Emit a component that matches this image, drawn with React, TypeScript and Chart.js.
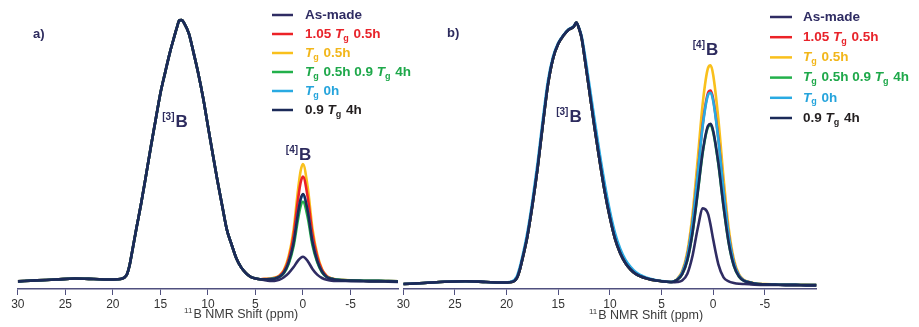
import React, { useEffect, useRef } from "react";
import { Chart, registerables } from "chart.js";
Chart.register(...registerables);

const FONT = "Arial, 'Liberation Sans', Helvetica, sans-serif";

// chemical shift grid (ppm), [3]B region and [4]B region
const ppmHigh = [30, 28, 26, 24, 22, 20.5, 19.5, 19, 18.75, 18.5, 18.25, 18, 17.5, 17, 16.5, 16, 15.5, 15, 14.5, 14, 13.5, 13.25, 13, 12.75, 12.5, 12, 11.5, 11, 10.5, 10, 9.5, 9, 8.5, 8, 7.5, 7, 6.5, 6, 5.5, 5, 4.5];
const ppmLow = [4, 3.5, 3, 2.5, 2, 1.5, 1, 0.5, 0.25, 0, -0.5, -1, -1.5, -2, -2.5, -3, -3.5, -4, -5, -6, -7, -8, -9, -10];

const xTickValues = [30, 25, 20, 15, 10, 5, 0, -5];

// panel a) [3]B region (common to all series)
const a3B = [-0.008, -0.004, -0.001, 0.003, 0.001, -0.001, 0.0, 0.003, 0.008, 0.02, 0.052, 0.1, 0.2, 0.296, 0.402, 0.51, 0.613, 0.715, 0.795, 0.872, 0.938, 0.97, 0.996, 0.997, 0.985, 0.945, 0.87, 0.79, 0.697, 0.59, 0.484, 0.38, 0.284, 0.19, 0.133, 0.08, 0.046, 0.024, 0.009, 0.003, 0.0];
// panel a) [4]B region per series
const aAsMade4 = [-0.004, -0.006, -0.006, -0.002, 0.008, 0.024, 0.046, 0.073, 0.082, 0.087, 0.07, 0.04, 0.018, 0.005, -0.002, -0.005, -0.006, -0.006, -0.007, -0.007, -0.008, -0.008, -0.009, -0.01];
const aRed4 = [0.001, 0.002, 0.005, 0.013, 0.032, 0.079, 0.166, 0.312, 0.371, 0.395, 0.316, 0.174, 0.087, 0.036, 0.012, 0.003, -0.001, -0.003, -0.004, -0.005, -0.006, -0.006, -0.007, -0.008];
const aYellow4 = [0.002, 0.003, 0.006, 0.014, 0.036, 0.089, 0.186, 0.35, 0.416, 0.443, 0.354, 0.195, 0.097, 0.04, 0.013, 0.004, 0.0, -0.002, -0.004, -0.005, -0.006, -0.006, -0.007, -0.008];
const aGreen4 = [0.0, 0.001, 0.003, 0.009, 0.024, 0.06, 0.125, 0.235, 0.28, 0.298, 0.238, 0.131, 0.066, 0.027, 0.009, 0.002, -0.001, -0.003, -0.004, -0.005, -0.006, -0.006, -0.007, -0.008];
const aCyan4 = [0.0, 0.001, 0.003, 0.009, 0.025, 0.065, 0.136, 0.256, 0.305, 0.325, 0.26, 0.143, 0.071, 0.029, 0.009, 0.002, -0.001, -0.003, -0.004, -0.005, -0.006, -0.006, -0.007, -0.008];
const aNavy4 = [0.0, 0.0, 0.002, 0.009, 0.026, 0.066, 0.138, 0.259, 0.308, 0.328, 0.262, 0.144, 0.072, 0.03, 0.009, 0.002, -0.002, -0.004, -0.005, -0.006, -0.007, -0.007, -0.008, -0.009];

// panel b) [3]B region
const b3B = [-0.006, -0.002, 0.003, 0.005, 0.002, 0.0, 0.002, 0.018, 0.045, 0.085, 0.128, 0.175, 0.298, 0.44, 0.605, 0.76, 0.862, 0.918, 0.95, 0.972, 0.984, 1.0, 0.978, 0.943, 0.88, 0.74, 0.6, 0.47, 0.35, 0.25, 0.168, 0.113, 0.075, 0.05, 0.033, 0.023, 0.016, 0.011, 0.008, 0.005, 0.003];
const b3BCyan = [-0.006, -0.002, 0.003, 0.005, 0.002, 0.0, 0.004, 0.024, 0.055, 0.095, 0.14, 0.19, 0.315, 0.46, 0.625, 0.775, 0.87, 0.922, 0.952, 0.974, 0.986, 1.0, 0.98, 0.95, 0.895, 0.765, 0.63, 0.5, 0.38, 0.275, 0.19, 0.13, 0.088, 0.06, 0.04, 0.028, 0.019, 0.013, 0.009, 0.006, 0.004];
// panel b) [4]B region per series
const bAsMade4 = [0.001, 0.002, 0.008, 0.034, 0.103, 0.208, 0.285, 0.264, 0.22, 0.165, 0.07, 0.02, 0.004, -0.002, -0.005, -0.006, -0.007, -0.008, -0.009, -0.009, -0.01, -0.01, -0.011, -0.011];
const bRed4 = [0.003, 0.011, 0.038, 0.105, 0.233, 0.42, 0.613, 0.729, 0.738, 0.705, 0.554, 0.355, 0.185, 0.078, 0.027, 0.007, 0.001, -0.004, -0.007, -0.008, -0.009, -0.009, -0.01, -0.01];
const bYellow4 = [0.003, 0.013, 0.044, 0.119, 0.264, 0.474, 0.694, 0.825, 0.835, 0.798, 0.628, 0.402, 0.209, 0.089, 0.031, 0.009, 0.002, -0.003, -0.006, -0.007, -0.008, -0.009, -0.009, -0.01];
const bGreen4 = [0.002, 0.01, 0.032, 0.086, 0.191, 0.344, 0.503, 0.598, 0.605, 0.578, 0.455, 0.292, 0.152, 0.064, 0.022, 0.006, 0.001, -0.004, -0.007, -0.008, -0.009, -0.009, -0.01, -0.01];
const bCyan4 = [0.003, 0.011, 0.038, 0.104, 0.231, 0.415, 0.607, 0.721, 0.73, 0.698, 0.549, 0.352, 0.183, 0.077, 0.027, 0.007, 0.001, -0.004, -0.007, -0.008, -0.009, -0.009, -0.01, -0.01];
const bNavy4 = [0.002, 0.01, 0.032, 0.087, 0.193, 0.347, 0.507, 0.603, 0.61, 0.583, 0.459, 0.294, 0.153, 0.065, 0.023, 0.006, 0.001, -0.004, -0.007, -0.008, -0.009, -0.009, -0.01, -0.01];

type Seg = { t: string; it?: boolean; sub?: boolean };

const seriesNames = ["As-made", "1.05 Tg 0.5h", "Tg 0.5h", "Tg 0.5h 0.9 Tg 4h", "Tg 0h", "0.9 Tg 4h"];
const seriesLegend: Seg[][] = [
  [{ t: "As-made" }],
  [{ t: "1.05 " }, { t: "T", it: true }, { t: "g", sub: true }, { t: " 0.5h" }],
  [{ t: "T", it: true }, { t: "g", sub: true }, { t: " 0.5h" }],
  [{ t: "T", it: true }, { t: "g", sub: true }, { t: " 0.5h 0.9 " }, { t: "T", it: true }, { t: "g", sub: true }, { t: " 4h" }],
  [{ t: "T", it: true }, { t: "g", sub: true }, { t: " 0h" }],
  [{ t: "0.9 " }, { t: "T", it: true }, { t: "g", sub: true }, { t: " 4h" }],
];
const lineColors = ["#2f2c63", "#ec2227", "#f9c01c", "#22b04b", "#29aae2", "#1b2a58"];
const textColors = ["#2f2c63", "#e8232a", "#f2b61a", "#1ea84a", "#25a4dc", "#231f20"];

const peakSites = ["[3]", "[4]"];
const LABEL_COLOR = "#2d2b5e";

function build(high: number[][], low: number[][]) {
  return high.map((h, i) => ppmHigh.concat(ppmLow).map((x, j) => ({ x, y: j < ppmHigh.length ? h[j] : low[i][j - ppmHigh.length] })));
}

const panelA = {
  letter: "a)",
  left: 0,
  width: 420,
  pad: { left: 17.8, right: 22 },
  yMin: -0.0373,
  yMax: 1.0742,
  data: build([a3B, a3B, a3B, a3B, a3B, a3B], [aAsMade4, aRed4, aYellow4, aGreen4, aCyan4, aNavy4]),
  order: [1, 4, 5, 2, 3, 0],
  letterPos: [33, 38],
  peaks: [
    { ppm: 14.8, val: 0.586 },
    { ppm: 1.8, val: 0.459 },
  ],
  titleY: 318,
  legend: { x0: 272, x1: 293, tx: 305, y0: 15, dy: 19 },
};
const panelB = {
  letter: "b)",
  left: 383,
  width: 536,
  pad: { left: 20.3, right: 102.5 },
  yMin: -0.025,
  yMax: 1.0865,
  data: build([b3B, b3B, b3B, b3B, b3BCyan, b3B], [bAsMade4, bRed4, bYellow4, bGreen4, bCyan4, bNavy4]),
  order: [1, 4, 5, 3, 2, 0],
  letterPos: [64, 37],
  peaks: [
    { ppm: 15.2, val: 0.617 },
    { ppm: 1.98, val: 0.875 },
  ],
  titleY: 319,
  legend: { x0: 387, x1: 409, tx: 420, y0: 17, dy: 20.2 },
};

function drawRich(ctx: CanvasRenderingContext2D, segs: Seg[], x: number, y: number, size: number) {
  let cx = x;
  for (const s of segs) {
    if (s.sub) {
      ctx.font = `bold ${Math.round(size * 0.66)}px ${FONT}`;
      ctx.fillText(s.t, cx, y + size * 0.3);
      cx += ctx.measureText(s.t).width + 1;
    } else {
      ctx.font = `${s.it ? "italic " : ""}bold ${size}px ${FONT}`;
      ctx.fillText(s.t, cx, y);
      cx += ctx.measureText(s.t).width;
    }
  }
}

function makePlugin(p: any) {
  return {
    id: "annot" + p.letter.charAt(0),
    afterDraw(chart: any) {
      const ctx: CanvasRenderingContext2D = chart.ctx;
      const xs = chart.scales.x;
      const ys = chart.scales.y;
      ctx.save();
      ctx.textAlign = "left";
      ctx.textBaseline = "alphabetic";
      ctx.fillStyle = LABEL_COLOR;
      ctx.font = `bold 13px ${FONT}`;
      ctx.fillText(p.letter, p.letterPos[0], p.letterPos[1]);
      p.peaks.forEach((pk: any, i: number) => {
        const x = xs.getPixelForValue(pk.ppm);
        const y = ys.getPixelForValue(pk.val);
        ctx.font = `bold 10px ${FONT}`;
        ctx.fillText(peakSites[i], x, y - 7);
        const w = ctx.measureText(peakSites[i]).width;
        ctx.font = `bold 17px ${FONT}`;
        ctx.fillText("B", x + w + 1, y);
      });
      ctx.fillStyle = "#3a3a3a";
      ctx.font = `8px ${FONT}`;
      const supW = ctx.measureText("11").width;
      ctx.font = `12.5px ${FONT}`;
      const mainT = "B NMR Shift (ppm)";
      const mainW = ctx.measureText(mainT).width;
      const cx = xs.getPixelForValue(6.5);
      const sx = cx - (supW + 1 + mainW) / 2;
      ctx.font = `8px ${FONT}`;
      ctx.fillText("11", sx, p.titleY - 5);
      ctx.font = `12.5px ${FONT}`;
      ctx.fillText(mainT, sx + supW + 1, p.titleY);
      const L = p.legend;
      ctx.textBaseline = "middle";
      seriesLegend.forEach((segs, i) => {
        const y = L.y0 + i * L.dy;
        ctx.strokeStyle = lineColors[i];
        ctx.lineWidth = 2.5;
        ctx.beginPath();
        ctx.moveTo(L.x0, y);
        ctx.lineTo(L.x1, y);
        ctx.stroke();
        ctx.fillStyle = textColors[i];
        drawRich(ctx, segs, L.tx, y, 13.5);
      });
      ctx.restore();
    },
  };
}

function makeConfig(p: any): any {
  return {
    type: "line",
    data: {
      datasets: p.data.map((pts: any, i: number) => ({
        label: seriesNames[i],
        data: pts,
        borderColor: lineColors[i],
        borderWidth: 2.6,
        pointRadius: 0,
        fill: false,
        cubicInterpolationMode: "monotone",
        order: p.order[i],
      })),
    },
    options: {
      responsive: false,
      animation: false,
      layout: { padding: { left: p.pad.left, right: p.pad.right, top: 0, bottom: 0 } },
      plugins: { legend: { display: false }, tooltip: { enabled: false } },
      scales: {
        x: {
          type: "linear",
          reverse: true,
          min: -10,
          max: 30,
          afterBuildTicks: (s: any) => {
            s.ticks = xTickValues.map((v) => ({ value: v }));
          },
          afterFit: (s: any) => {
            s.height = 38;
          },
          grid: { drawOnChartArea: false, drawTicks: true, tickLength: 6, color: "#50507f", lineWidth: 1 },
          border: { display: true, color: "#50507f", width: 1.5 },
          ticks: { color: "#333", font: { family: FONT, size: 12 }, padding: 2, maxRotation: 0, autoSkip: false },
        },
        y: { type: "linear", display: false, min: p.yMin, max: p.yMax },
      },
    },
    plugins: [makePlugin(p)],
  };
}

export default function App() {
  const refA = useRef<HTMLCanvasElement>(null);
  const refB = useRef<HTMLCanvasElement>(null);
  useEffect(() => {
    const ca = new Chart(refA.current as HTMLCanvasElement, makeConfig(panelA));
    const cb = new Chart(refB.current as HTMLCanvasElement, makeConfig(panelB));
    return () => {
      ca.destroy();
      cb.destroy();
    };
  }, []);
  return (
    <div style={{ position: "fixed", left: 0, top: 0, width: 919, height: 327, background: "#fff", overflow: "hidden" }}>
      <canvas ref={refA} width={panelA.width} height={327} style={{ position: "absolute", left: panelA.left, top: 0, width: panelA.width, height: 327 }} />
      <canvas ref={refB} width={panelB.width} height={327} style={{ position: "absolute", left: panelB.left, top: 0, width: panelB.width, height: 327 }} />
    </div>
  );
}
